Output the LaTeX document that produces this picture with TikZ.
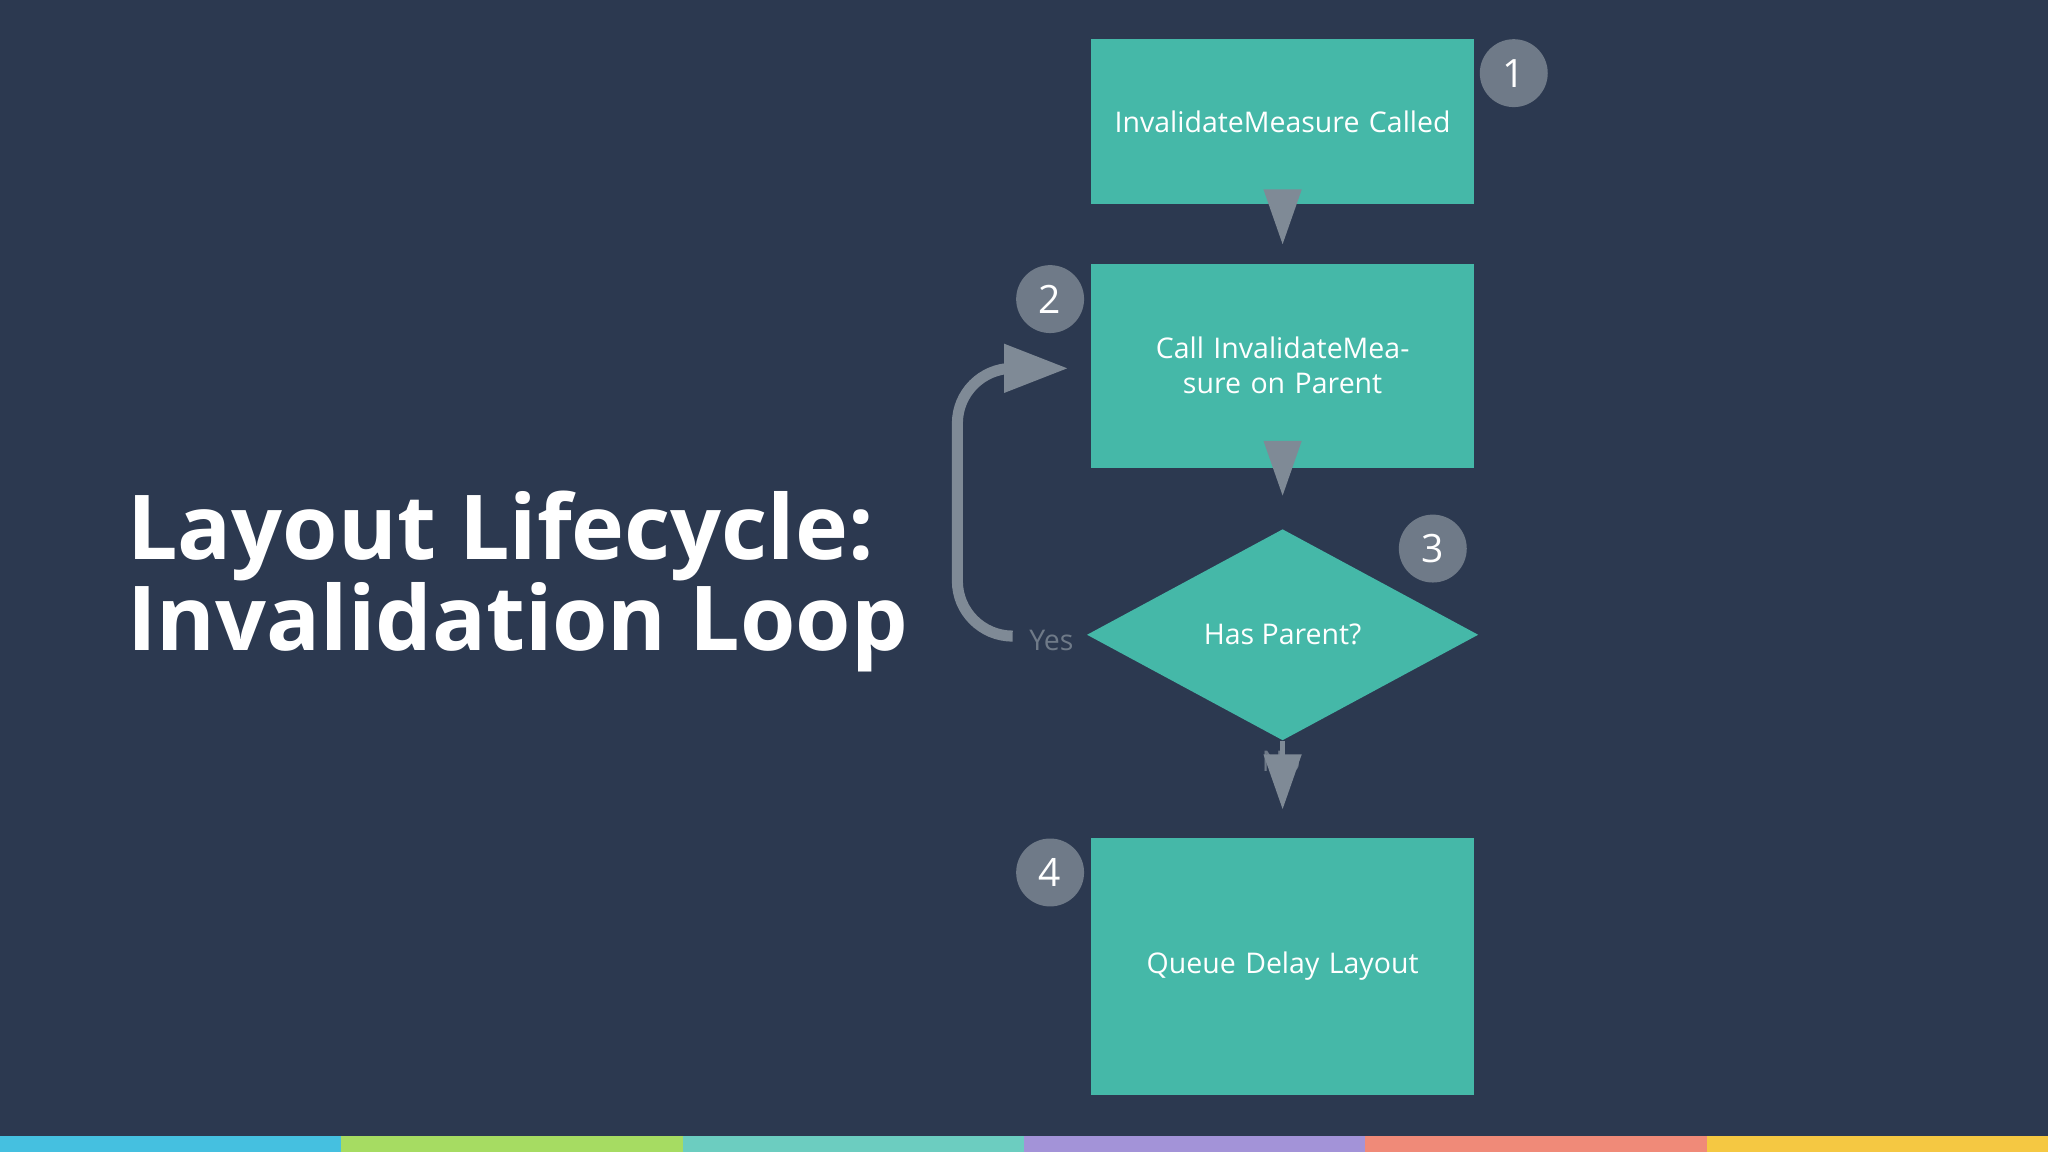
\documentclass[tikz,border=0pt]{standalone}
\usepackage{fontspec}
\setmainfont{Open Sans}
\usetikzlibrary{arrows.meta,shapes.geometric}
\definecolor{bg}{HTML}{2C3950}
\definecolor{tealbox}{HTML}{45B8A8}
\definecolor{arr}{HTML}{7F8A96}
\definecolor{circ}{HTML}{6F7A88}
\definecolor{yestxt}{HTML}{6F7A88}
\definecolor{b1}{HTML}{45C0E0}
\definecolor{b2}{HTML}{A6DC62}
\definecolor{b3}{HTML}{6CCDC0}
\definecolor{b4}{HTML}{A393D8}
\definecolor{b5}{HTML}{F08A78}
\definecolor{b6}{HTML}{F5C842}
\begin{document}
\begin{tikzpicture}[x=0.01cm,y=-0.01cm,
  box/.style={fill=tealbox,draw=none,minimum width=284*0.01cm,text=white,font=\fontsize{6.2}{7.6}\selectfont,align=center,text width=270*0.01cm},
  num/.style={circle,fill=circ,minimum size=52*0.01cm,inner sep=0,text=white,font=\fontsize{8.5}{9}\selectfont},
  flow/.style={draw=arr,line width=1.2pt,-{Triangle[length=12pt,width=8pt]}}]
\fill[bg] (0,0) rectangle (1568,882);
\foreach \c [count=\i from 0] in {b1,b2,b3,b4,b5,b6}
  \fill[\c] (\i*261.33,870) rectangle ({(\i+1)*261.33},882);
\node[anchor=base west,text=white,font=\bfseries\fontsize{19.5}{20}\selectfont] (t1) at (85,428) {Layout Lifecycle:};
\node[anchor=base west,text=white,font=\bfseries\fontsize{19.5}{20}\selectfont] (t2) at (85,498) {Invalidation Loop};
\node[box,minimum height=126*0.01cm] (a) at (982,93) {InvalidateMeasure Called};
\node[box,minimum height=156*0.01cm] (b) at (982,280) {Call InvalidateMeasure on Parent};
\node[diamond,fill=tealbox,minimum width=300*0.01cm,minimum height=162*0.01cm,inner sep=0,aspect=1.85,text=white,font=\fontsize{6.2}{7.6}\selectfont] (c) at (982,486) {Has Parent?};
\node[box,minimum height=197*0.01cm] (d) at (982,740) {Queue Delay Layout};
\node[text=yestxt,font=\fontsize{6.2}{7}\selectfont] (no) at (981,583) {No};
\node[text=yestxt,font=\fontsize{6.2}{7}\selectfont] (yes) at (805,490) {Yes};
\coordinate (ys) at (773,487);
\coordinate (bt) at (818,282);
\draw[flow] (a.south) -- ([yshift=4]b.north);
\draw[flow] (b.south) -- ([yshift=7]c.north);
\draw[flow] (c.south) -- ([yshift=6]d.north);
\draw[draw=arr,line width=2.4pt,-{Triangle[length=14pt,width=10pt]},rounded corners=12pt] (ys) -- (733,487) -- (733,282) -- (bt);
\node[num] (n1) at (1159,56) {1};
\node[num] (n2) at (804,229) {2};
\node[num] (n3) at (1097,420) {3};
\node[num] (n4) at (804,668) {4};
\end{tikzpicture}
\end{document}
